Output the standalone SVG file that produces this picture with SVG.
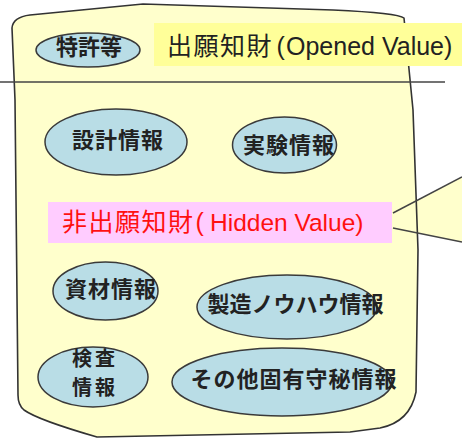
<svg xmlns="http://www.w3.org/2000/svg" width="462" height="441" viewBox="0 0 462 441">
<style>
.bg{fill:#fff}
.outer{fill:#FFFFCC;stroke:#333;stroke-width:1.6;stroke-linejoin:round}
.line{stroke:#444;stroke-width:1.5;fill:none}
.node ellipse{fill:#B9DDE6;stroke:#3a3a3a;stroke-width:1.5}
.node text{font-family:"Noto Sans CJK JP","Noto Sans",sans-serif;font-weight:bold;font-size:22px;fill:#222;text-anchor:middle}
.lbl{font-family:"Liberation Sans","Noto Sans CJK JP",sans-serif;font-size:25px}
</style>
<rect class="bg" x="0" y="0" width="462" height="441"/>
<g id="callout">
<polygon points="393,213 462,177 462,242 393,228" fill="#FFFFCC"/>
</g>
<g id="container">
<path class="outer" d="M12,28 Q13,17 30,15 L143,4 L333,10 Q398,13 404,18 L413,110 L418,250 L416,392 Q410,422 380,428 L350,432 L97,437 Q38,420 24,410 Q18,405 18,395 L15,100 Z"/>
</g>
<g id="connectors">
<line class="line" x1="0" y1="82" x2="445" y2="82"/>
<line class="line" x1="393" y1="213" x2="462" y2="177"/>
<line class="line" x1="393" y1="228" x2="462" y2="242"/>
</g>
<g id="opened-label">
<rect x="154" y="23" width="308" height="43" fill="#FFFF99"/>
<text class="lbl" y="55" fill="#222"><tspan x="167" letter-spacing="1.5">出願知財</tspan><tspan x="276.5">(</tspan><tspan x="286">Opened Value)</tspan></text>
</g>
<g id="hidden-label">
<rect x="48" y="202" width="344" height="41" fill="#FFCCFF"/>
<text class="lbl" y="231" fill="#FF1010"><tspan x="62" letter-spacing="1.5">非出願知財</tspan><tspan x="195.5">(</tspan><tspan x="210" font-size="24.5">Hidden Value)</tspan></text>
</g>
<g id="n-patent" class="node">
<ellipse cx="88" cy="50" rx="52" ry="17"/>
<text x="89" y="55">特許等</text>
</g>
<g id="n-design" class="node">
<ellipse cx="116" cy="142" rx="71" ry="33"/>
<text x="118" y="148" letter-spacing="1">設計情報</text>
</g>
<g id="n-experiment" class="node">
<ellipse cx="284.5" cy="145" rx="52" ry="28"/>
<text x="289" y="152.5" letter-spacing="1">実験情報</text>
</g>
<g id="n-material" class="node">
<ellipse cx="105.5" cy="291" rx="52.5" ry="29"/>
<text x="111" y="297" letter-spacing="1">資材情報</text>
</g>
<g id="n-knowhow" class="node">
<ellipse cx="287" cy="307" rx="90" ry="32"/>
<text x="295.5" y="312">製造ノウハウ情報</text>
</g>
<g id="n-inspection" class="node">
<ellipse cx="93" cy="377" rx="55" ry="30"/>
<text letter-spacing="3" style="font-size:20px"><tspan x="95" y="366">検査</tspan><tspan x="95" y="395">情報</tspan></text>
</g>
<g id="n-other" class="node">
<ellipse cx="282" cy="382" rx="110" ry="34"/>
<text x="294" y="387" letter-spacing="1">その他固有守秘情報</text>
</g>
</svg>
